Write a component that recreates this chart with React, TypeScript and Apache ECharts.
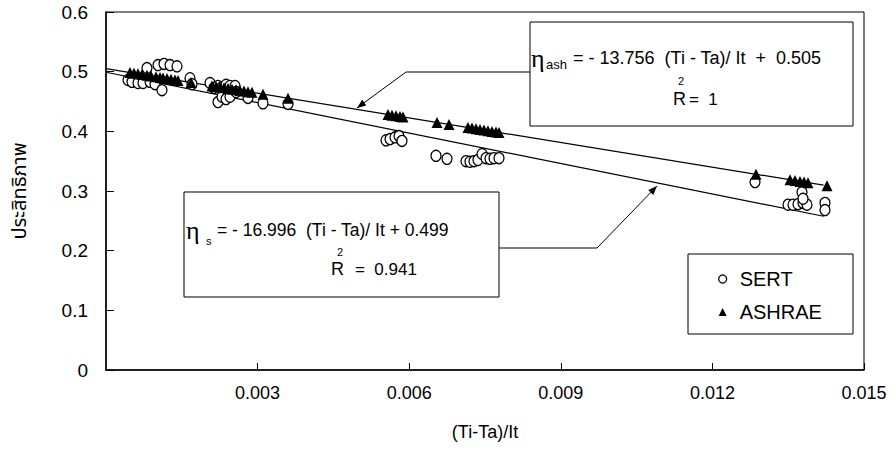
import React, { useEffect, useRef } from "react";
import * as echarts from "echarts";

// SERT (hollow circles)
const sertX = [0.000435, 0.000515, 0.000633, 0.000732, 0.000811, 0.000871, 0.00097, 0.001029, 0.001148, 0.001267, 0.001405, 0.001108, 0.001662, 0.001702, 0.002058, 0.002137, 0.002216, 0.002296, 0.002375, 0.002454, 0.002553, 0.002216, 0.002296, 0.002375, 0.002454, 0.002573, 0.00281, 0.003107, 0.003602, 0.005541, 0.00562, 0.005719, 0.005798, 0.005857, 0.00653, 0.006748, 0.007124, 0.007203, 0.007282, 0.007361, 0.007441, 0.00752, 0.007599, 0.007678, 0.007777, 0.012843, 0.013496, 0.013595, 0.013694, 0.013793, 0.013872, 0.013773, 0.013793, 0.014228, 0.014228];
const sertY = [0.486, 0.483, 0.481, 0.481, 0.506, 0.483, 0.479, 0.511, 0.513, 0.511, 0.509, 0.469, 0.489, 0.479, 0.481, 0.473, 0.476, 0.474, 0.478, 0.476, 0.476, 0.449, 0.458, 0.454, 0.458, 0.466, 0.456, 0.447, 0.446, 0.385, 0.387, 0.39, 0.392, 0.384, 0.359, 0.354, 0.35, 0.349, 0.35, 0.352, 0.362, 0.355, 0.354, 0.355, 0.355, 0.315, 0.277, 0.277, 0.278, 0.28, 0.277, 0.298, 0.287, 0.28, 0.268];

// ASHRAE (filled triangles)
const ashX = [0.000475, 0.000554, 0.000633, 0.000712, 0.000811, 0.00089, 0.000989, 0.001069, 0.001128, 0.001207, 0.001286, 0.001365, 0.001425, 0.001682, 0.002098, 0.002177, 0.002256, 0.002335, 0.002414, 0.002493, 0.002573, 0.002652, 0.002731, 0.00281, 0.002889, 0.003107, 0.003602, 0.00558, 0.00566, 0.005739, 0.005818, 0.005877, 0.00655, 0.006788, 0.007164, 0.007243, 0.007322, 0.007401, 0.00748, 0.007559, 0.007638, 0.007718, 0.007777, 0.012863, 0.013536, 0.013635, 0.013734, 0.013813, 0.013892, 0.014268];
const ashY = [0.4985, 0.4974, 0.4963, 0.4952, 0.4938, 0.4928, 0.4914, 0.4903, 0.4895, 0.4884, 0.4873, 0.4862, 0.4854, 0.4819, 0.4761, 0.4751, 0.474, 0.4729, 0.4718, 0.4707, 0.4696, 0.4685, 0.4674, 0.4663, 0.4653, 0.4623, 0.4555, 0.4282, 0.4271, 0.4261, 0.425, 0.4242, 0.4149, 0.4116, 0.4065, 0.4054, 0.4043, 0.4032, 0.4021, 0.401, 0.3999, 0.3988, 0.398, 0.3281, 0.3188, 0.3174, 0.3161, 0.315, 0.3139, 0.3087];

// Trend-line end points (from the fitted equations shown on the chart)
const fitX = [0, 0.0142];
const ashFitY = [0.505, 0.3097];
const sertFitY = [0.499, 0.2577];

const seriesNames = ["SERT", "ASHRAE"];
const xTitle = "(Ti-Ta)/It";
const yTitle = "ประสิทธิภาพ";

const FONT = "'Liberation Sans', Arial, Helvetica, sans-serif";
const THAI = "'Noto Sans Thai', 'Noto Sans Thai UI', Loma, Garuda, 'Tlwg Typo', 'Noto Sans', sans-serif";
const SERIF = "'Liberation Serif', 'DejaVu Serif', serif";

function arrowHead(fx: number, fy: number, tx: number, ty: number, len = 9, half = 3.5) {
  const dx = tx - fx;
  const dy = ty - fy;
  const d = Math.sqrt(dx * dx + dy * dy);
  const ux = dx / d;
  const uy = dy / d;
  const bx = tx - ux * len;
  const by = ty - uy * len;
  return [
    [tx, ty],
    [bx - uy * half, by + ux * half],
    [bx + uy * half, by - ux * half],
  ];
}

const zip = (a: number[], b: number[]) => a.map((v, i) => [v, b[i]]);

export default function App() {
  const ref = useRef<HTMLDivElement>(null);
  useEffect(() => {
    const chart = echarts.init(ref.current!, null, { renderer: "svg" });
    const txt = (x: number, y: number, text: string, fontSize: number, extra: any = {}) => ({
      type: "text",
      x,
      y,
      z: 100,
      style: { text, fontSize, fill: "#000", fontFamily: FONT, verticalAlign: "middle", ...extra },
    });
    const a1 = arrowHead(406, 72, 357, 108);
    const a2 = arrowHead(597, 248, 657, 186);
    chart.setOption({
      animation: false,
      backgroundColor: "#fff",
      textStyle: { fontFamily: FONT },
      grid: { left: 106, right: 32, top: 12, bottom: 103, show: true, borderColor: "#000", borderWidth: 1 },
      xAxis: {
        type: "value",
        min: 0,
        max: 0.015,
        interval: 0.003,
        axisLine: { show: true, lineStyle: { color: "#000", width: 1.5 } },
        axisTick: { show: true, inside: true, length: 7, lineStyle: { color: "#000", width: 1 } },
        splitLine: { show: false },
        axisLabel: { showMinLabel: false, color: "#000", fontSize: 18, margin: 14, formatter: (v: number) => v.toFixed(3) },
        name: xTitle,
        nameLocation: "middle",
        nameGap: 53,
        nameTextStyle: { color: "#000", fontSize: 18 },
      },
      yAxis: {
        type: "value",
        min: 0,
        max: 0.6,
        interval: 0.1,
        axisLine: { show: true, lineStyle: { color: "#000", width: 1.5 } },
        axisTick: { show: true, inside: true, length: 8, lineStyle: { color: "#000", width: 1 } },
        splitLine: { show: false },
        axisLabel: { color: "#000", fontSize: 19, margin: 18, formatter: (v: number) => (v === 0 ? "0" : v.toFixed(1)) },
        name: yTitle,
        nameLocation: "middle",
        nameGap: 76,
        nameRotate: 90,
        nameTextStyle: { color: "#000", fontSize: 20, fontFamily: THAI },
      },
      legend: {
        data: [
          { name: seriesNames[0], icon: "circle", itemStyle: { color: "#fff", borderColor: "#000", borderWidth: 1.3 } },
          { name: seriesNames[1], icon: "triangle", itemStyle: { color: "#000" } },
        ],
        orient: "vertical",
        left: 718,
        top: 269,
        padding: 0,
        itemWidth: 8,
        itemHeight: 8,
        itemGap: 13,
        z: 101,
        textStyle: { color: "#000", fontSize: 20, lineHeight: 20, padding: [0, 0, 0, 8], fontFamily: FONT },
      },
      series: [
        {
          type: "line",
          data: zip(fitX, ashFitY),
          symbol: "none",
          silent: true,
          lineStyle: { color: "#000", width: 1.2 },
          z: 1,
        },
        {
          type: "line",
          data: zip(fitX, sertFitY),
          symbol: "none",
          silent: true,
          lineStyle: { color: "#000", width: 1.2 },
          z: 1,
        },
        {
          name: seriesNames[0],
          type: "scatter",
          data: zip(sertX, sertY),
          symbol: "circle",
          symbolSize: [10, 11],
          itemStyle: { color: "#fff", borderColor: "#000", borderWidth: 1.3, opacity: 1 },
          z: 2,
        },
        {
          name: seriesNames[1],
          type: "scatter",
          data: zip(ashX, ashY),
          symbol: "triangle",
          symbolSize: [11, 11],
          itemStyle: { color: "#000", opacity: 1 },
          z: 3,
        },
      ],
      graphic: [
        // equation box (ASHRAE)
        { type: "rect", z: 99, shape: { x: 530, y: 22, width: 323, height: 104 }, style: { fill: "#fff", stroke: "#000", lineWidth: 1 } },
        txt(531, 58, "η", 26, { fontFamily: SERIF }),
        txt(546, 64, "ash", 13),
        txt(573, 58, "= - 13.756  (Ti - Ta)/ It  +  0.505", 18),
        txt(673, 99, "R", 18),
        txt(678, 81, "2", 11),
        txt(689, 99, "=  1", 17),
        // equation box (SERT)
        { type: "rect", z: 99, shape: { x: 184, y: 192, width: 315, height: 105 }, style: { fill: "#fff", stroke: "#000", lineWidth: 1 } },
        txt(186, 230, "η", 26, { fontFamily: SERIF }),
        txt(206, 241, "s", 11),
        txt(217, 230, "= - 16.996  (Ti - Ta)/ It + 0.499", 17.5),
        txt(331, 269, "R", 18),
        txt(337, 252, "2", 11),
        txt(355, 269, "=  0.941", 17),
        // legend box
        { type: "rect", z: 99, shape: { x: 688, y: 254, width: 165, height: 80 }, style: { fill: "#fff", stroke: "#000", lineWidth: 1 } },
        // arrows
        { type: "polyline", z: 99, shape: { points: [[530, 72], [406, 72], [357, 108]] }, style: { stroke: "#000", lineWidth: 1, fill: null } },
        { type: "polygon", z: 99, shape: { points: a1 }, style: { fill: "#000" } },
        { type: "polyline", z: 99, shape: { points: [[499, 248], [597, 248], [657, 186]] }, style: { stroke: "#000", lineWidth: 1, fill: null } },
        { type: "polygon", z: 99, shape: { points: a2 }, style: { fill: "#000" } },
      ],
    });
    return () => chart.dispose();
  }, []);
  return <div ref={ref} style={{ position: "fixed", left: 0, top: 0, width: 896, height: 473, background: "#fff" }} />;
}
